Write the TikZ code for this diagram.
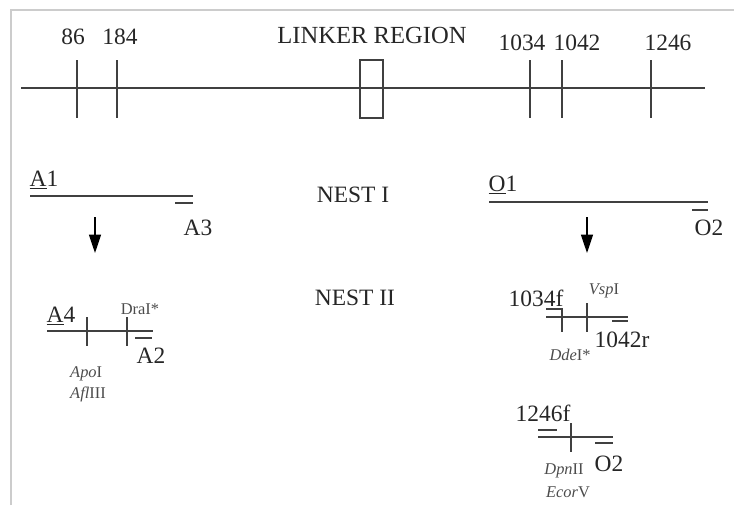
\documentclass[tikz,border=0pt]{standalone}
\usepackage{fontspec}
\setmainfont{Liberation Serif}
\usetikzlibrary{arrows.meta}

\begin{document}
\begin{tikzpicture}[x=0.03cm,y=-0.03cm,
  every node/.style={inner sep=0pt,text=black!85},
  big/.style={font=\fontsize{20}{20}\selectfont},
  small/.style={font=\fontsize{14}{14}\selectfont,text=black!70},
  seg/.style={draw=black!75,line width=1.1pt},
  pdown/.style={draw=black,line width=1.1pt,-{Triangle[length=5.5mm,width=3.6mm]}}]
\useasboundingbox (0,0) rectangle (734,505);
\coordinate (fr0) at (11,505); \coordinate (fr1) at (11,10); \coordinate (fr2) at (734,10);
\draw[black!20,line width=2.2pt] (fr0) -- (fr1) -- (fr2);

% map with the marked positions
\coordinate (m0) at (21,88); \coordinate (m1) at (705,88);
\draw[seg] (m0) -- (m1);
\foreach \i/\x/\lx/\ly/\lab in {0/77/73/37/86,1/117/120/37/184,2/530/522/43/1034,3/562/577/43/1042,4/651/668/43/1246} {
  \coordinate (p\i t) at (\x,60); \coordinate (p\i b) at (\x,118);
  \draw[seg] (p\i t) -- (p\i b);
  \node[big] (pos\i) at (\lx,\ly) {\lab};
}
\coordinate (lk0) at (360,60); \coordinate (lk1) at (383,118);
\draw[seg] (lk0) rectangle (lk1);
\node[big,font=\fontsize{21}{21}\selectfont] (linker) at (372,35) {LINKER REGION};

% nest I
\node[big] (nest1) at (353,195) {NEST I};
\node[big] (a1) at (44,180) {\underline{A}1};
\coordinate (a1s) at (30,196); \coordinate (a1e) at (193,196);
\draw[seg] (a1s) -- (a1e);
\coordinate (a3s) at (175,203); \coordinate (a3e) at (193,203);
\draw[seg] (a3s) -- (a3e);
\node[big] (a3) at (198,228) {A3};
\node[big] (o1) at (503,185) {\underline{O}1};
\coordinate (o1s) at (489,202); \coordinate (o1e) at (708,202);
\draw[seg] (o1s) -- (o1e);
\coordinate (o2s) at (692,210); \coordinate (o2e) at (708,210);
\draw[seg] (o2s) -- (o2e);
\node[big] (o2) at (709,228) {O2};

% arrows down
\coordinate (al0) at (95,217); \coordinate (al1) at (95,253);
\draw[pdown] (al0) -- (al1);
\coordinate (ar0) at (587,217); \coordinate (ar1) at (587,253);
\draw[pdown] (ar0) -- (ar1);

% nest II
\node[big] (nest2) at (355,298) {NEST II};

\node[big] (a4) at (61,316) {\underline{A}4};
\coordinate (a4s) at (47,331); \coordinate (a4e) at (153,331);
\draw[seg] (a4s) -- (a4e);
\foreach \i/\x in {0/87,1/127} {
  \coordinate (c\i t) at (\x,317); \coordinate (c\i b) at (\x,346);
  \draw[seg] (c\i t) -- (c\i b);
}
\coordinate (a2s) at (135,338); \coordinate (a2e) at (152,338);
\draw[seg] (a2s) -- (a2e);
\node[big] (a2) at (151,356) {A2};
\node[small] (dra) at (140,309) {DraI*};
\node[small,anchor=west] (apo) at (70,374) {\textit{Apo}I};
\node[small,anchor=west] (afl) at (70,394) {\textit{Afl}III};

\node[big] (f1034) at (536,298) {1034f};
\coordinate (f1s) at (546,317); \coordinate (f1e) at (628,317);
\draw[seg] (f1s) -- (f1e);
\coordinate (b1s) at (546,309); \coordinate (b1e) at (563,309);
\draw[seg] (b1s) -- (b1e);
\coordinate (d0t) at (562,308); \coordinate (d0b) at (562,332);
\draw[seg] (d0t) -- (d0b);
\coordinate (d1t) at (587,303); \coordinate (d1b) at (587,332);
\draw[seg] (d1t) -- (d1b);
\coordinate (b2s) at (612,321); \coordinate (b2e) at (628,321);
\draw[seg] (b2s) -- (b2e);
\node[small] (vsp) at (604,291) {\textit{Vsp}I};
\node[big] (r1042) at (622,340) {1042r};
\node[small] (dde) at (570,355) {\textit{Dde}I*};

\node[big] (f1246) at (543,413) {1246f};
\coordinate (f2s) at (538,437); \coordinate (f2e) at (613,437);
\draw[seg] (f2s) -- (f2e);
\coordinate (b3s) at (538,430); \coordinate (b3e) at (557,430);
\draw[seg] (b3s) -- (b3e);
\coordinate (e0t) at (571,423); \coordinate (e0b) at (571,452);
\draw[seg] (e0t) -- (e0b);
\coordinate (b4s) at (595,443); \coordinate (b4e) at (613,443);
\draw[seg] (b4s) -- (b4e);
\node[big] (o2b) at (609,464) {O2};
\node[small] (dpn) at (564,471) {\textit{Dpn}II};
\node[small] (eco) at (568,492) {\textit{Ecor}V};
\end{tikzpicture}
\end{document}
